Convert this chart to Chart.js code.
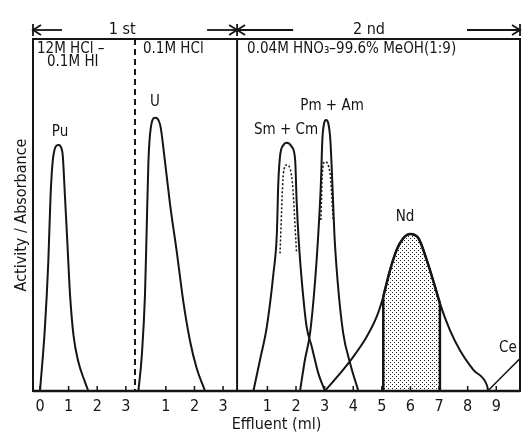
<!DOCTYPE html>
<html>
<head>
<meta charset="utf-8">
<script src="https://cdn.jsdelivr.net/npm/chart.js@4/dist/chart.umd.min.js"></script>
<style>
  html, body { margin: 0; padding: 0; background: #fff; }
  #wrap { width: 522px; height: 437px; position: relative; }
</style>
</head>
<body>
<div id="wrap"><canvas id="elution"></canvas></div>
<script>
// Font used everywhere (narrow, like the scanned figure)
const FONT = "'DejaVu Sans Condensed', 'Liberation Sans Narrow', 'DejaVu Sans', sans-serif";
const INK = '#151515';

// Each column section starts at its own zero on the shared x axis
const SEC_OFFSET = [0, 3.4, 6.95];
const DIVIDERS = [3.32, 6.89];          // dashed, solid
const SEC_TITLES = ['1 st', '2 nd'];
const SEC_TITLE_X = [2.87, 11.5];
const ELUENTS = [['12M HCl –', '0.1M HI'], ['0.1M HCl'], ['0.04M HNO₃–99.6% MeOH(1:9)']];

// Tick labels per section (local ml)
const sec1Ticks = [0, 1, 2, 3];
const sec2Ticks = [1, 2, 3];
const sec3Ticks = [1, 2, 3, 4, 5, 6, 7, 8, 9];

// Peaks, local x (ml) and relative height
const puX = [0, 0.17, 0.29, 0.37, 0.47, 0.64, 0.78, 0.87, 0.96, 1.05, 1.17, 1.34, 1.57, 1.69];
const puY = [0, 17.8, 36.7, 55.7, 67.0, 69.9, 68.0, 55.7, 41.5, 27.3, 15.9, 8.3, 2.6, 0];

const uX = [0.04, 0.16, 0.27, 0.33, 0.39, 0.47, 0.62, 0.80, 0.97, 1.15, 1.38, 1.61, 1.85, 2.08, 2.37];
const uY = [0, 10.2, 27.3, 46.2, 65.1, 74.6, 77.6, 75.6, 65.1, 52.8, 39.6, 25.4, 14.0, 6.4, 0];

const smcmX = [0.51, 0.74, 0.98, 1.21, 1.33, 1.38, 1.44, 1.56, 1.67, 1.85, 1.97, 2.02, 2.10, 2.22, 2.37, 2.55, 2.78, 3.01];
const smcmY = [0, 8.8, 18.3, 33.4, 44.8, 59.0, 66.6, 69.9, 70.5, 69.4, 65.6, 54.3, 42.0, 29.6, 18.3, 12.6, 5.0, 0];
const smcmDotX = [1.44, 1.56, 1.67, 1.85, 2.02];
const smcmDotY = [39.1, 61.8, 64.2, 60.9, 39.1];

const pmamX = [2.14, 2.31, 2.49, 2.66, 2.78, 2.87, 2.92, 2.98, 3.05, 3.13, 3.20, 3.27, 3.34, 3.46, 3.65, 3.89, 4.18];
const pmamY = [0, 8.8, 16.4, 30.6, 44.8, 59.0, 71.3, 76.0, 77.0, 76.0, 71.3, 59.0, 44.8, 30.6, 16.4, 7.9, 0];
const pmamDotX = [2.87, 2.92, 3.01, 3.19, 3.30];
const pmamDotY = [48.6, 61.8, 65.1, 61.8, 48.6];

const ndX = [3.01, 3.54, 4.0, 4.47, 4.82, 5.05, 5.29, 5.52, 5.75, 5.99, 6.28, 6.57, 6.86, 7.03, 7.38, 7.73, 8.20, 8.67, 8.72];
const ndY = [0, 5.0, 9.7, 15.4, 21.1, 26.8, 34.4, 40.1, 43.4, 44.6, 43.4, 37.2, 29.6, 24.9, 17.3, 11.6, 6.0, 1.7, 0];
// collected fraction (shaded)
const ndCutX = [5.05, 5.29, 5.52, 5.75, 5.99, 6.28, 6.57, 6.86, 7.03];
const ndCutY = [26.8, 34.4, 40.1, 43.4, 44.6, 43.4, 37.2, 29.6, 24.9];

const ceX = [8.7, 9.83];
const ceY = [0, 9.2];

// Peak names and where they sit (section, local x, height)
const peakNames = ['Pu', 'U', 'Sm + Cm', 'Pm + Am', 'Nd', 'Ce'];
const peakSec = [0, 1, 2, 2, 2, 2];
const peakLabelX = [0.7, 0.62, 1.65, 3.26, 5.81, 9.41];
const peakLabelY = [73.6, 82.0, 74.2, 81.0, 49.4, 12.2];

function pts(sec, xs, ys) {
  return xs.map((x, i) => ({ x: SEC_OFFSET[sec] + x, y: ys[i] }));
}

// tick positions on the shared axis + their printed labels
const tickPos = [], tickLabels = [];
[sec1Ticks, sec2Ticks, sec3Ticks].forEach((arr, s) => {
  arr.forEach(t => { tickPos.push(SEC_OFFSET[s] + t); tickLabels.push(String(t)); });
});

// stipple for the Nd fraction
function stipple() {
  const c = document.createElement('canvas');
  c.width = 4; c.height = 4;
  const g = c.getContext('2d');
  g.fillStyle = '#222';
  g.fillRect(0, 0, 1, 1);
  g.fillRect(2, 2, 1, 1);
  return g.createPattern(c, 'repeat');
}

function curve(data, extra) {
  return Object.assign({
    data: data,
    borderColor: INK,
    borderWidth: 2,
    pointRadius: 0,
    fill: false,
    cubicInterpolationMode: 'monotone'
  }, extra || {});
}

const datasets = [
  curve(pts(0, puX, puY)),
  curve(pts(1, uX, uY)),
  curve(pts(2, smcmX, smcmY)),
  curve(pts(2, smcmDotX, smcmDotY), { borderWidth: 1.5, borderDash: [2, 2] }),
  curve(pts(2, pmamX, pmamY)),
  curve(pts(2, pmamDotX, pmamDotY), { borderWidth: 1.5, borderDash: [2, 2] }),
  curve(pts(2, ndX, ndY)),
  curve(pts(2, ndCutX, ndCutY), { borderWidth: 2.5, fill: 'origin', backgroundColor: stipple() }),
  curve(pts(2, [ndCutX[0], ndCutX[0]], [0, ndCutY[0]]), { borderWidth: 2.5 }),
  curve(pts(2, [ndCutX[ndCutX.length - 1], ndCutX[ndCutX.length - 1]], [0, ndCutY[ndCutY.length - 1]]), { borderWidth: 2.5 }),
  curve(pts(2, ceX, ceY), { borderWidth: 1.5 })
];

function arrowHead(ctx, x, y, dir) {
  ctx.beginPath();
  ctx.moveTo(x + dir * -8, y - 5);
  ctx.lineTo(x, y);
  ctx.lineTo(x + dir * -8, y + 5);
  ctx.stroke();
}

const decorations = {
  id: 'decorations',
  afterDatasetsDraw(chart) {
    const ctx = chart.ctx;
    const a = chart.chartArea;
    const xs = chart.scales.x, ys = chart.scales.y;
    ctx.save();
    ctx.strokeStyle = INK;
    ctx.fillStyle = INK;

    // frame
    ctx.lineWidth = 2;
    ctx.strokeRect(a.left, a.top, a.right - a.left, a.bottom - a.top);
    ctx.lineWidth = 2.5;
    ctx.beginPath(); ctx.moveTo(a.left, a.bottom); ctx.lineTo(a.right, a.bottom); ctx.stroke();

    // section dividers
    const d1 = xs.getPixelForValue(DIVIDERS[0]);
    const d2 = xs.getPixelForValue(DIVIDERS[1]);
    ctx.lineWidth = 2;
    ctx.setLineDash([6, 4]);
    ctx.beginPath(); ctx.moveTo(d1, a.top); ctx.lineTo(d1, a.bottom); ctx.stroke();
    ctx.setLineDash([]);
    ctx.beginPath(); ctx.moveTo(d2, a.top); ctx.lineTo(d2, a.bottom); ctx.stroke();

    // little inward ticks on the baseline
    ctx.lineWidth = 1.5;
    tickPos.forEach(v => {
      const px = xs.getPixelForValue(v);
      ctx.beginPath(); ctx.moveTo(px, a.bottom); ctx.lineTo(px, a.bottom - 5); ctx.stroke();
    });

    // column arrows above the frame
    const ay = 30;
    ctx.lineWidth = 1.8;
    [a.left, d2, a.right].forEach(px => {
      ctx.beginPath(); ctx.moveTo(px, ay - 6); ctx.lineTo(px, ay + 6); ctx.stroke();
    });
    const segs = [[a.left, a.left + 29, -1], [d2 - 30, d2, 1], [d2, d2 + 56, -1], [a.right - 53, a.right, 1]];
    segs.forEach(s => {
      ctx.beginPath(); ctx.moveTo(s[0], ay); ctx.lineTo(s[1], ay); ctx.stroke();
      arrowHead(ctx, s[2] < 0 ? s[0] : s[1], ay, s[2]);
    });
    ctx.font = '16px ' + FONT;
    ctx.textAlign = 'center';
    ctx.textBaseline = 'middle';
    SEC_TITLES.forEach((t, i) => ctx.fillText(t, xs.getPixelForValue(SEC_TITLE_X[i]), ay));

    // eluent labels in each section
    ctx.font = '15px ' + FONT;
    ctx.textAlign = 'left';
    const starts = [a.left + 4, d1 + 8, d2 + 10];
    ELUENTS.forEach((lines, i) => {
      lines.forEach((ln, j) => {
        ctx.fillText(ln, starts[i] + (j > 0 ? 10 : 0), a.top + 10 + j * 13);
      });
    });

    // peak names
    ctx.textAlign = 'center';
    peakNames.forEach((n, i) => {
      ctx.fillText(n, xs.getPixelForValue(SEC_OFFSET[peakSec[i]] + peakLabelX[i]), ys.getPixelForValue(peakLabelY[i]));
    });
    ctx.restore();
  }
};

new Chart(document.getElementById('elution'), {
  type: 'line',
  data: { datasets: datasets },
  plugins: [decorations],
  options: {
    responsive: true,
    maintainAspectRatio: false,
    animation: false,
    devicePixelRatio: 1,
    layout: { padding: { top: 39, right: 2, left: 0, bottom: 0 } },
    plugins: { legend: { display: false }, tooltip: { enabled: false } },
    scales: {
      x: {
        type: 'linear',
        min: -0.245,
        max: 16.78,
        border: { display: false },
        grid: { display: false, drawTicks: false },
        afterBuildTicks(scale) { scale.ticks = tickPos.map(v => ({ value: v })); },
        afterFit(scale) { scale.height = 46; },
        ticks: {
          autoSkip: false,
          maxRotation: 0,
          padding: 6,
          color: INK,
          font: { family: FONT, size: 16 },
          callback: (v, i) => tickLabels[i]
        },
        title: {
          display: true,
          text: 'Effluent (ml)',
          color: INK,
          font: { family: FONT, size: 16 },
          padding: { top: 0, bottom: 3 }
        }
      },
      y: {
        min: 0,
        max: 100,
        border: { display: false },
        grid: { display: false, drawTicks: false },
        ticks: { display: false },
        afterFit(scale) { scale.width = 33; },
        title: {
          display: true,
          text: 'Activity / Absorbance',
          color: INK,
          font: { family: FONT, size: 16 },
          padding: { top: 12, bottom: 0 }
        }
      }
    }
  }
});
</script>
</body>
</html>
